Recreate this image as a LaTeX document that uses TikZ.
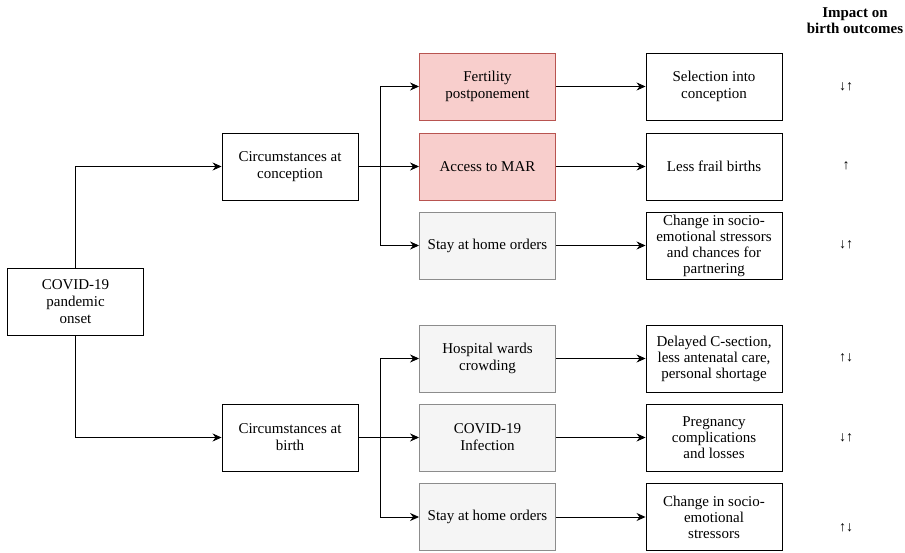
\documentclass[tikz,border=0pt]{standalone}
\usepackage{fontspec}
\setmainfont{Liberation Serif}
\usetikzlibrary{arrows.meta}
\definecolor{redfill}{HTML}{F8CECC}
\definecolor{redline}{HTML}{B85450}
\definecolor{greyfill}{HTML}{F5F5F5}
\definecolor{greyline}{HTML}{8C8C8C}
\tikzset{
  box/.style={draw=black, line width=0.9pt, minimum width=136pt, minimum height=67pt, inner sep=0pt, align=center, font=\fontsize{15}{17}\selectfont},
  redbox/.style={box, draw=redline, fill=redfill},
  greybox/.style={box, draw=greyline, fill=greyfill},
  conn/.style={line width=0.9pt, -{Stealth[length=9pt,width=8pt,inset=3pt]}},
  plain/.style={line width=0.9pt},
  impact/.style={font=\fontsize{14}{14}\selectfont, inner sep=0pt},
}
\begin{document}
\begin{tikzpicture}[x=1pt,y=-1pt]
\useasboundingbox (0,0) rectangle (905,553);
% left
\node[box] (covid) at (75.5,302) {COVID-19\\pandemic\\onset};
\node[box] (cconc) at (290,166.5) {Circumstances at\\conception};
\node[box] (cbirth) at (290,437.5) {Circumstances at\\birth};
% middle
\node[redbox] (fert) at (487.5,86.5) {Fertility\\postponement};
\node[redbox] (mar) at (487.5,166.5) {Access to MAR};
\node[greybox] (stay1) at (487.5,245.5) {Stay at home orders};
\node[greybox] (hosp) at (487.5,358.5) {Hospital wards\\crowding};
\node[greybox] (inf) at (487.5,437.5) {COVID-19\\Infection};
\node[greybox] (stay2) at (487.5,517) {Stay at home orders};
% right
\node[box] (sel) at (714,86.5) {Selection into\\conception};
\node[box] (frail) at (714,166.5) {Less frail births};
\node[box, font=\fontsize{15}{16}\selectfont] (chg1) at (714,245.5) {Change in socio-\\emotional stressors\\and chances for\\partnering};
\node[box, font=\fontsize{15}{16}\selectfont] (del) at (714,358.5) {Delayed C-section,\\less antenatal care,\\personal shortage};
\node[box, font=\fontsize{15}{16}\selectfont] (preg) at (714,437.5) {Pregnancy\\complications\\and losses};
\node[box, font=\fontsize{15}{16}\selectfont] (chg2) at (714,517) {Change in socio-\\emotional\\stressors};
% header
\node[align=center, font=\fontsize{15}{15.5}\selectfont\bfseries, inner sep=0pt] (head) at (855,20.5) {Impact on\\birth outcomes};
% impacts
\node[impact] (i1) at (846,87) {↓↑};
\node[impact] (i2) at (846,166) {↑};
\node[impact] (i3) at (846,245) {↓↑};
\node[impact] (i4) at (846,358) {↑↓};
\node[impact] (i5) at (846,438) {↓↑};
\node[impact] (i6) at (846,528) {↑↓};
% coordinates
\coordinate (b1) at (380,166.5);
\coordinate (b2) at (380,437.5);
% connectors
\draw[conn] (covid.north) |- (cconc.west);
\draw[conn] (covid.south) |- (cbirth.west);
\draw[plain] (cconc.east) -- (b1);
\draw[plain] (cbirth.east) -- (b2);
\draw[conn] (b1) |- (fert.west);
\draw[conn] (b1) -- (mar.west);
\draw[conn] (b1) |- (stay1.west);
\draw[conn] (b2) |- (hosp.west);
\draw[conn] (b2) -- (inf.west);
\draw[conn] (b2) |- (stay2.west);
\draw[conn] (fert) -- (sel);
\draw[conn] (mar) -- (frail);
\draw[conn] (stay1) -- (chg1);
\draw[conn] (hosp) -- (del);
\draw[conn] (inf) -- (preg);
\draw[conn] (stay2) -- (chg2);
\end{tikzpicture}
\end{document}
